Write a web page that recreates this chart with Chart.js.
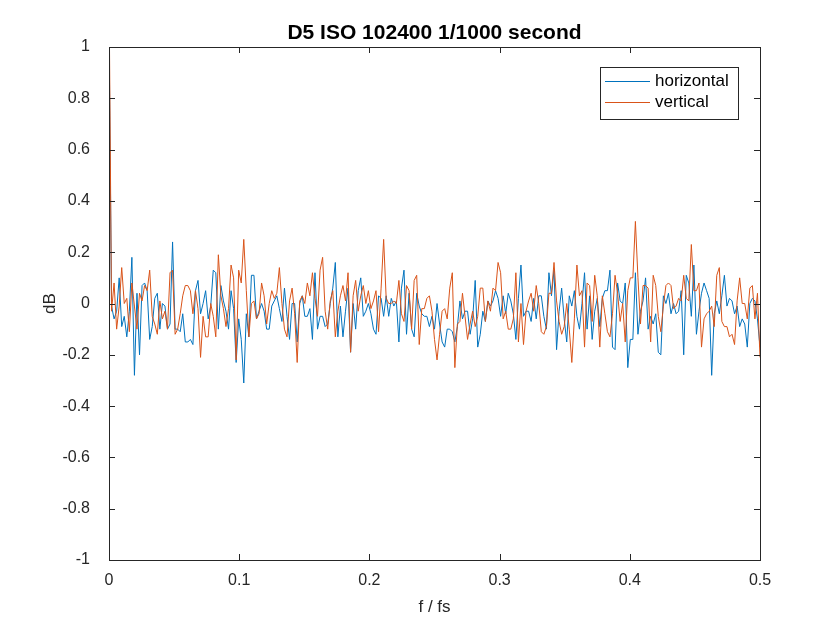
<!DOCTYPE html>
<html>
<head>
<meta charset="utf-8">
<script src="https://cdn.jsdelivr.net/npm/chart.js@4.4.0/dist/chart.umd.min.js"></script>
<style>
  html, body { margin: 0; padding: 0; background: #fff; }
</style>
</head>
<body>
<canvas id="myChart-Noise" width="840" height="630"></canvas>
<script>
// values, one per frequency bin (0 .. 0.5 f/fs)
const horizontal = [
  1.08, -0.01, -0.06, -0.03, 0.10, -0.09, -0.05, -0.13, -0.03, 0.18,
  -0.28, 0.04, -0.20, 0.07, 0.08, 0.05, -0.14, -0.09, 0.02, 0.04,
  -0.10, 0.00, -0.01, -0.10, -0.08, 0.24, -0.10, -0.10, -0.11, -0.04,
  -0.15, -0.15, -0.14, -0.16, 0.05, 0.09, -0.04, 0.00, 0.05, -0.06,
  -0.01, 0.13, 0.12, -0.10, 0.07, 0.01, -0.03, -0.10, 0.05, -0.02,
  -0.23, -0.06, -0.14, -0.31, -0.04, -0.13, 0.11, 0.11, -0.06, -0.03,
  0.00, -0.03, -0.10, -0.10, -0.01, 0.01, 0.03, -0.02, -0.07, 0.06,
  -0.05, -0.14, 0.00, 0.00, -0.15, 0.00, 0.03, -0.05, -0.05, -0.02,
  -0.14, 0.12, -0.10, -0.05, -0.05, -0.09, -0.08, 0.00, 0.06, 0.16,
  -0.13, -0.01, -0.13, -0.03, 0.06, -0.19, 0.00, -0.10, 0.05, 0.10,
  -0.05, -0.03, 0.00, -0.04, -0.10, -0.12, 0.03, 0.02, -0.05, 0.03,
  -0.05, 0.02, -0.01, 0.01, -0.15, 0.06, 0.13, -0.12, 0.04, -0.10,
  -0.13, 0.04, -0.01, -0.04, -0.05, -0.05, -0.09, -0.05, -0.10, 0.00,
  -0.08, -0.15, -0.17, -0.10, -0.10, -0.11, -0.15, -0.09, 0.01, -0.06,
  -0.03, -0.03, -0.12, -0.06, 0.09, -0.17, -0.12, -0.03, -0.07, 0.01,
  -0.01, 0.01, 0.05, 0.02, -0.05, 0.03, -0.04, 0.04, 0.01, -0.04,
  -0.14, 0.02, 0.15, -0.05, -0.03, -0.03, -0.07, 0.02, -0.06, 0.03,
  0.03, -0.05, -0.10, 0.12, 0.03, 0.13, -0.18, -0.03, 0.06, -0.06,
  -0.15, 0.03, -0.01, 0.05, -0.05, -0.10, 0.00, 0.12, -0.10, 0.03,
  -0.14, -0.03, 0.02, -0.09, 0.02, 0.05, 0.05, 0.13, -0.17, -0.18,
  0.08, 0.01, 0.00, 0.08, -0.25, -0.14, -0.14, 0.12, -0.12, -0.03,
  0.01, 0.10, -0.10, -0.05, -0.08, -0.04, -0.19, -0.20, 0.03, 0.00,
  0.04, -0.04, 0.00, -0.04, -0.03, 0.05, -0.20, 0.11, 0.08, -0.05,
  0.15, -0.12, -0.03, 0.04, 0.08, 0.05, 0.02, -0.28, -0.04, 0.01,
  -0.04, 0.03, 0.11, -0.01, 0.02, 0.01, -0.04, -0.01, -0.09, -0.06,
  -0.08, -0.17, 0.00, 0.02, 0.01, -0.06, -0.17
];

const vertical = [
  1.25, -0.03, 0.08, -0.10, -0.01, 0.14, 0.00, 0.02, -0.11, 0.08,
  -0.01, -0.10, 0.04, 0.01, 0.07, 0.05, 0.13, -0.05, -0.08, -0.12,
  0.01, -0.06, -0.03, -0.10, 0.12, 0.13, -0.12, -0.10, -0.04, 0.03,
  0.07, 0.07, 0.05, -0.04, 0.05, -0.02, -0.21, -0.05, -0.13, -0.13,
  0.00, -0.05, -0.13, 0.19, 0.03, -0.02, -0.09, -0.02, 0.15, 0.10,
  -0.22, 0.13, 0.08, 0.25, 0.05, -0.13, 0.00, 0.01, -0.06, -0.04,
  0.08, 0.03, -0.08, 0.00, 0.05, 0.02, 0.04, 0.14, 0.00, -0.10,
  -0.13, 0.01, 0.06, -0.04, -0.23, 0.01, 0.03, 0.00, 0.08, 0.03,
  0.12, 0.02, -0.05, 0.13, 0.18, -0.03, -0.10, 0.01, 0.05, -0.13,
  -0.03, 0.03, 0.07, 0.01, 0.12, -0.19, 0.03, 0.09, -0.03, 0.03,
  0.07, 0.00, 0.05, -0.02, 0.01, 0.05, -0.11, 0.06, 0.25, 0.02,
  0.00, 0.00, 0.01, 0.00, 0.09, -0.04, -0.07, 0.07, 0.05, -0.10,
  0.09, 0.11, -0.16, -0.02, -0.02, 0.02, 0.03, -0.03, -0.14, -0.22,
  -0.12, -0.03, -0.02, -0.06, 0.06, 0.12, -0.25, -0.08, -0.07, 0.04,
  -0.05, -0.14, -0.08, -0.03, -0.09, -0.05, 0.06, 0.06, -0.07, 0.01,
  -0.03, 0.06, 0.05, 0.16, 0.12, -0.06, -0.03, -0.10, -0.10, -0.06,
  0.12, -0.15, 0.00, -0.16, -0.03, 0.01, 0.04, -0.03, 0.07, 0.00,
  -0.11, -0.12, -0.09, 0.04, 0.04, 0.16, 0.01, -0.07, -0.12, -0.09,
  0.00, -0.10, -0.23, -0.06, 0.15, 0.03, 0.05, -0.17, 0.08, 0.07,
  -0.07, 0.11, 0.03, -0.17, 0.03, -0.04, -0.11, -0.13, -0.04, 0.11,
  0.04, -0.07, 0.00, -0.15, 0.05, 0.10, 0.10, 0.32, 0.10, -0.08,
  0.07, 0.07, 0.06, -0.15, 0.11, 0.07, -0.05, -0.11, -0.01, 0.07,
  0.08, 0.07, -0.02, -0.01, 0.02, 0.01, 0.11, 0.02, 0.01, 0.23,
  0.05, 0.05, 0.08, -0.17, -0.06, -0.04, -0.03, -0.01, -0.09, 0.11,
  0.14, -0.07, -0.09, -0.09, -0.13, -0.12, -0.16, 0.01, 0.10, 0.00,
  0.00, -0.06, 0.06, 0.07, -0.06, 0.04, -0.21
];

const xTicks = [0, 0.1, 0.2, 0.3, 0.4, 0.5];
const xTickLabels = ['0', '0.1', '0.2', '0.3', '0.4', '0.5'];
const yTicks = [-1, -0.8, -0.6, -0.4, -0.2, 0, 0.2, 0.4, 0.6, 0.8, 1];
const yTickLabels = ['-1', '-0.8', '-0.6', '-0.4', '-0.2', '0', '0.2', '0.4', '0.6', '0.8', '1'];

// frequency grid, evenly spaced from 0 to 0.5
const freqs = horizontal.map((v, i) => i * 0.5 / (horizontal.length - 1));

const fontFamily = '"Liberation Sans", Arial, sans-serif';
const axisColor = '#262626';

// MATLAB look: box round the axes, inward ticks on all sides, legend in the corner
const matlabBox = {
  id: 'matlabBox',
  afterDatasetsDraw(chart) {
    const { ctx, chartArea: a, scales: { x, y } } = chart;
    ctx.save();
    ctx.strokeStyle = axisColor;
    ctx.lineWidth = 1;
    ctx.strokeRect(a.left + 0.5, a.top + 0.5, a.right - a.left, a.bottom - a.top);
    ctx.beginPath();
    xTicks.forEach(v => {
      const px = Math.round(x.getPixelForValue(v)) + 0.5;
      ctx.moveTo(px, a.bottom); ctx.lineTo(px, a.bottom - 6);
      ctx.moveTo(px, a.top); ctx.lineTo(px, a.top + 6);
    });
    yTicks.forEach(v => {
      const py = Math.round(y.getPixelForValue(v)) + 0.5;
      ctx.moveTo(a.left, py); ctx.lineTo(a.left + 6, py);
      ctx.moveTo(a.right, py); ctx.lineTo(a.right - 6, py);
    });
    ctx.stroke();

    // legend
    const lx = 600.5, ly = 67.5;
    ctx.fillStyle = '#fff';
    ctx.fillRect(lx, ly, 138, 52);
    ctx.strokeRect(lx, ly, 138, 52);
    ctx.font = '17px ' + fontFamily;
    ctx.textBaseline = 'middle';
    chart.data.datasets.forEach((ds, i) => {
      const rowY = 81.5 + i * 21;
      ctx.strokeStyle = ds.borderColor;
      ctx.beginPath();
      ctx.moveTo(605, rowY); ctx.lineTo(650, rowY);
      ctx.stroke();
      ctx.fillStyle = '#000';
      ctx.fillText(ds.label, 655, rowY);
    });
    ctx.restore();
  }
};

const ctxNoise = document.getElementById('myChart-Noise');

new Chart(ctxNoise, {
  type: 'line',
  data: {
    datasets: [
      {
        label: 'horizontal',
        data: freqs.map((f, i) => ({ x: f, y: horizontal[i] })),
        borderColor: '#0072BD',
        borderWidth: 1,
        pointRadius: 0,
        clip: 0,
        order: 1
      }, {
        label: 'vertical',
        data: freqs.map((f, i) => ({ x: f, y: vertical[i] })),
        borderColor: '#D95319',
        borderWidth: 1,
        pointRadius: 0,
        clip: 0,
        order: 0
      }]
  },
  options: {
    responsive: false,
    animation: false,
    layout: { padding: { left: 0, right: 80, top: 21, bottom: 0 } },
    plugins: {
      legend: { display: false },
      tooltip: { enabled: false },
      title: {
        display: true,
        text: 'D5 ISO 102400 1/1000 second',
        color: '#000',
        fullSize: false,
        font: { family: fontFamily, size: 21, weight: 'bold' },
        padding: { top: 0, bottom: 0.8 }
      }
    },
    scales: {
      x: {
        type: 'linear',
        min: 0,
        max: 0.5,
        afterBuildTicks: s => { s.ticks = xTicks.map(v => ({ value: v })); },
        afterFit: s => { s.height = 70; },
        grid: { display: false },
        border: { display: false },
        ticks: {
          autoSkip: false,
          maxRotation: 0,
          padding: 3,
          color: axisColor,
          font: { family: fontFamily, size: 16 },
          callback: (v, i) => xTickLabels[i]
        },
        title: {
          display: true,
          text: 'f / fs',
          color: axisColor,
          font: { family: fontFamily, size: 17 },
          padding: { top: 0, bottom: 12 }
        }
      },
      y: {
        min: -1,
        max: 1,
        afterBuildTicks: s => { s.ticks = yTicks.map(v => ({ value: v })); },
        afterFit: s => { s.width = 109; },
        grid: { display: false },
        border: { display: false },
        ticks: {
          autoSkip: false,
          padding: 11,
          color: axisColor,
          font: { family: fontFamily, size: 16 },
          callback: (v, i) => yTickLabels[i]
        },
        title: {
          display: true,
          text: 'dB',
          color: axisColor,
          font: { family: fontFamily, size: 17 },
          padding: { top: 39.8, bottom: 0 }
        }
      }
    }
  },
  plugins: [matlabBox]
});
</script>
</body>
</html>
